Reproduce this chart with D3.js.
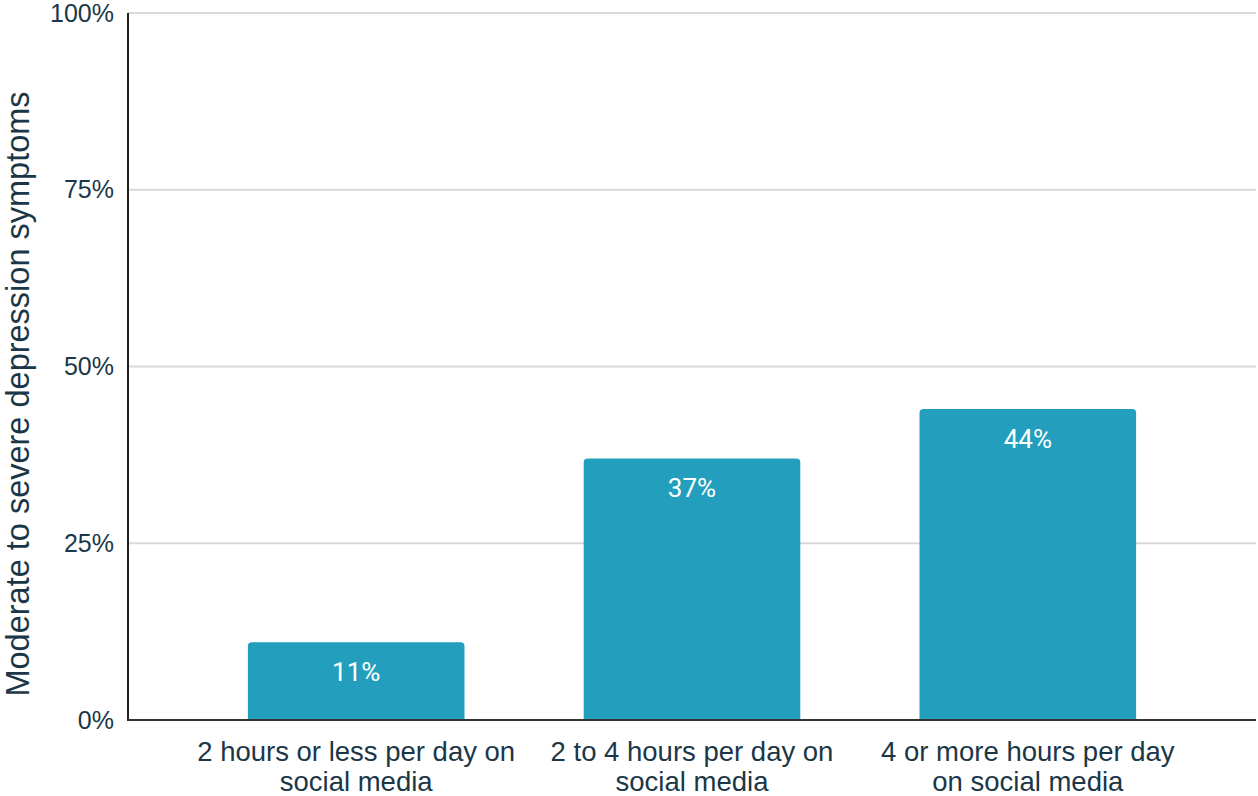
<!DOCTYPE html>
<html>
<head>
<meta charset="utf-8">
<script src="https://cdn.jsdelivr.net/npm/d3@7"></script>
<style>
  html, body { margin: 0; padding: 0; background: #fff; }
  svg { display: block; }
  text { font-family: "Liberation Sans", Arial, sans-serif; }
</style>
</head>
<body>
<svg id="chart" width="1258" height="796"></svg>
<script>
// Share of respondents with moderate to severe depression symptoms
const categories = [
  ["2 hours or less per day on", "social media"],
  ["2 to 4 hours per day on", "social media"],
  ["4 or more hours per day", "on social media"]
];
const values = [11, 37, 44];
const yTicks = [0, 25, 50, 75, 100];
const yTitle = "Moderate to severe depression symptoms";

const svg = d3.select("#chart");
const margin = { top: 13, right: 2, bottom: 76, left: 128 };
const W = 1258, H = 796;
const innerW = W - margin.left - margin.right;
const innerH = H - margin.top - margin.bottom;

const g = svg.append("g").attr("transform", `translate(${margin.left},${margin.top})`);

const x = d3.scaleBand()
  .domain(d3.range(values.length))
  .range([0, innerW])
  .paddingInner(0.355)
  .paddingOuter(0.357);

const y = d3.scaleLinear().domain([0, 100]).range([innerH, 0]);

const textColor = "#1b3747";
const barColor = "#239fbd";

// Horizontal gridlines
g.append("g")
  .selectAll("line")
  .data(yTicks.filter(d => d > 0))
  .join("line")
  .attr("x1", 0).attr("x2", innerW)
  .attr("y1", d => y(d)).attr("y2", d => y(d))
  .attr("stroke", "#d9d9d9").attr("stroke-width", 2);

// Y axis labels
const yAxis = g.append("g")
  .call(d3.axisLeft(y).tickValues(yTicks).tickFormat(d => d + "%").tickSize(0).tickPadding(14));
yAxis.select(".domain").remove();
yAxis.selectAll("text")
  .attr("fill", textColor)
  .style("font-family", "'Liberation Sans', Arial, sans-serif")
  .style("font-size", "25px");

// Bars with slightly rounded top corners
const r = 4;
g.append("g")
  .selectAll("path")
  .data(values)
  .join("path")
  .attr("fill", barColor)
  .attr("d", (d, i) => {
    const x0 = x(i), x1 = x(i) + x.bandwidth();
    const yt = y(d), yb = y(0);
    return `M${x0},${yb}V${yt + r}Q${x0},${yt} ${x0 + r},${yt}H${x1 - r}Q${x1},${yt} ${x1},${yt + r}V${yb}Z`;
  });

// Value labels inside the bars
g.append("g")
  .selectAll("text")
  .data(values)
  .join("text")
  .attr("x", (d, i) => x(i) + x.bandwidth() / 2)
  .attr("y", d => y(d) + 32)
  .attr("text-anchor", "middle")
  .attr("dominant-baseline", "middle")
  .attr("fill", "#ffffff")
  .style("font-family", "Roboto, sans-serif")
  .style("font-size", "26px")
  .text(d => d + "%");

// Axis lines
g.append("line")
  .attr("x1", 0).attr("x2", 0)
  .attr("y1", 0).attr("y2", innerH + 1)
  .attr("stroke", "#222").attr("stroke-width", 2);
g.append("line")
  .attr("x1", -1).attr("x2", innerW)
  .attr("y1", innerH).attr("y2", innerH)
  .attr("stroke", "#333").attr("stroke-width", 2);

// Category labels (two lines each)
const cat = g.append("g")
  .selectAll("text")
  .data(categories)
  .join("text")
  .attr("text-anchor", "middle")
  .attr("fill", textColor)
  .style("font-size", "27.5px")
  .attr("transform", (d, i) => `translate(${x(i) + x.bandwidth() / 2},${innerH + 41})`);
cat.selectAll("tspan")
  .data(d => d)
  .join("tspan")
  .attr("x", 0)
  .attr("dy", (d, j) => j === 0 ? 0 : 30)
  .text(d => d);

// Y axis title
svg.append("text")
  .attr("transform", `translate(29,394) rotate(-90)`)
  .attr("text-anchor", "middle")
  .attr("fill", textColor)
  .style("font-size", "32.5px")
  .text(yTitle);
</script>
</body>
</html>
